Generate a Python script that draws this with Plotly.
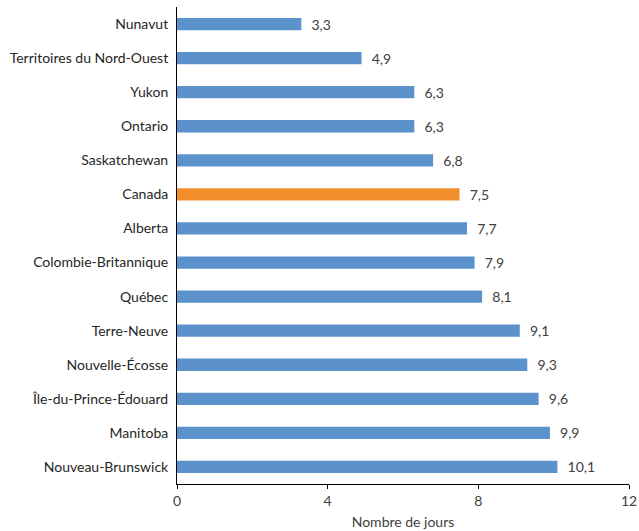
import plotly.graph_objects as go

categories = ["Nunavut", "Territoires du Nord-Ouest", "Yukon", "Ontario", "Saskatchewan",
              "Canada", "Alberta", "Colombie-Britannique", "Québec", "Terre-Neuve",
              "Nouvelle-Écosse", "Île-du-Prince-Édouard", "Manitoba", "Nouveau-Brunswick"]
values = [3.3, 4.9, 6.3, 6.3, 6.8, 7.5, 7.7, 7.9, 8.1, 9.1, 9.3, 9.6, 9.9, 10.1]
x_ticks = [0, 4, 8, 12]
highlight = "Canada"

blue = "#5B92CB"
orange = "#F28E2C"
colors = [orange if c == highlight else blue for c in categories]
labels = [f"{v:.1f}".replace(".", ",") for v in values]

fig = go.Figure(go.Bar(
    x=values, y=categories, orientation="h",
    marker=dict(color=colors, line=dict(width=0)),
    text=labels, texttemplate="  %{text}", textposition="outside",
    constraintext="none",
    textfont=dict(family="Lato, sans-serif", size=14, color="#404040"), cliponaxis=False,
    width=0.36,
))

fig.update_layout(
    width=639, height=531,
    margin=dict(l=177, r=10, t=7, b=47),
    plot_bgcolor="white", paper_bgcolor="white",
    font=dict(family="Lato, sans-serif", size=14, color="#404040"),
    showlegend=False,
    xaxis=dict(range=[0, 12], tickvals=x_ticks, showgrid=False, zeroline=False,
               showline=True, linecolor="black", linewidth=1, automargin=False,
               ticks="outside", ticklen=4, tickcolor="black",
               title=dict(text="Nombre de jours", font=dict(size=14), standoff=9),
               tickfont=dict(size=14)),
    yaxis=dict(autorange="reversed", showgrid=False, zeroline=False, automargin=False,
               showline=True, linecolor="black", linewidth=1, ticks="",
               ticklabelstandoff=5, tickfont=dict(size=14, color="#262626")),
)

fig.write_html("out.html", config={"displayModeBar": False},
               post_script="document.body.style.margin='0';")
